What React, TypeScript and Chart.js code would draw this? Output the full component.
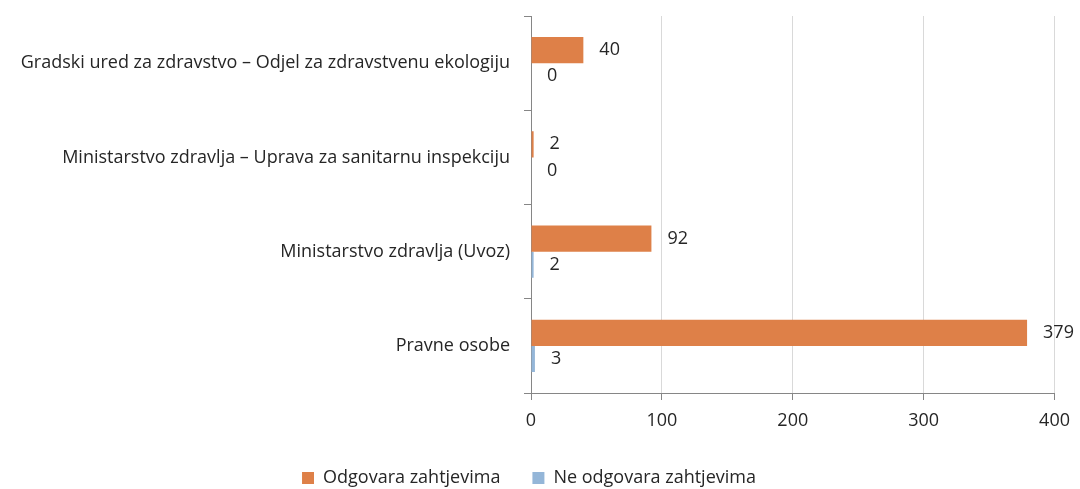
import React, { useEffect, useRef } from "react";
import { Chart, registerables } from "chart.js";

Chart.register(...registerables);

const categories = [
  "Gradski ured za zdravstvo – Odjel za zdravstvenu ekologiju",
  "Ministarstvo zdravlja – Uprava za sanitarnu inspekciju",
  "Ministarstvo zdravlja (Uvoz)",
  "Pravne osobe",
];
const seriesNames = ["Odgovara zahtjevima", "Ne odgovara zahtjevima"];
const odgovara = [40, 2, 92, 379];
const neOdgovara = [0, 0, 2, 3];
const xTicks = [0, 100, 200, 300, 400];

const FONT = "'Open Sans', 'Noto Sans', sans-serif";
const FS = 18;
const TEXT = "#262626";
const AXIS = "#868686";

const valueLabels = {
  id: "valueLabels",
  afterDatasetsDraw(chart: any) {
    const ctx = chart.ctx;
    ctx.save();
    ctx.font = `${FS}px ${FONT}`;
    ctx.fillStyle = TEXT;
    ctx.textAlign = "left";
    ctx.textBaseline = "middle";
    chart.data.datasets.forEach((ds: any, di: number) => {
      const meta = chart.getDatasetMeta(di);
      meta.data.forEach((bar: any, i: number) => {
        ctx.fillText(String(ds.data[i]), bar.x + 16, bar.y);
      });
    });
    ctx.restore();
  },
};

export default function App() {
  const ref = useRef<HTMLCanvasElement>(null);
  useEffect(() => {
    if (!ref.current) return;
    const chart = new Chart(ref.current, {
      type: "bar",
      data: {
        labels: categories,
        datasets: [
          {
            label: seriesNames[0],
            data: odgovara,
            backgroundColor: "#DE8048",
            borderWidth: 0,
            categoryPercentage: 0.553,
            barPercentage: 1,
          },
          {
            label: seriesNames[1],
            data: neOdgovara,
            backgroundColor: "#94B6D8",
            borderWidth: 0,
            categoryPercentage: 0.553,
            barPercentage: 1,
          },
        ],
      },
      options: {
        indexAxis: "y",
        animation: false,
        responsive: true,
        maintainAspectRatio: false,
        layout: { padding: { left: 0, right: 22, top: 16, bottom: -8 } },
        plugins: {
          legend: {
            position: "bottom",
            labels: {
              boxWidth: 12,
              boxHeight: 12,
              padding: 32,
              color: TEXT,
              font: { family: FONT, size: FS },
            },
          },
          tooltip: { enabled: false },
        },
        scales: {
          x: {
            min: 0,
            max: 400,
            afterBuildTicks: (scale: any) => {
              scale.ticks = xTicks.map((v) => ({ value: v }));
            },
            afterFit: (scale: any) => {
              scale.height = 44;
            },
            grid: {
              color: "#d9d9d9",
              tickColor: AXIS,
              tickLength: 7,
              lineWidth: 1,
            },
            border: { display: true, color: AXIS, width: 1 },
            ticks: {
              color: TEXT,
              font: { family: FONT, size: FS },
              padding: 10,
            },
          },
          y: {
            afterFit: (scale: any) => {
              scale.width = 531;
              scale.paddingTop = 0;
              scale.paddingBottom = 0;
            },
            grid: {
              drawOnChartArea: false,
              drawTicks: true,
              tickLength: 7,
              color: AXIS,
              offset: true,
            },
            border: { display: true, color: AXIS, width: 1 },
            ticks: {
              color: TEXT,
              font: { family: FONT, size: FS },
              padding: 14,
            },
          },
        },
      },
      plugins: [valueLabels],
    });
    return () => chart.destroy();
  }, []);
  return (
    <div style={{ position: "absolute", left: 0, top: 0, width: 1080, height: 489 }}>
      <canvas ref={ref} />
    </div>
  );
}
